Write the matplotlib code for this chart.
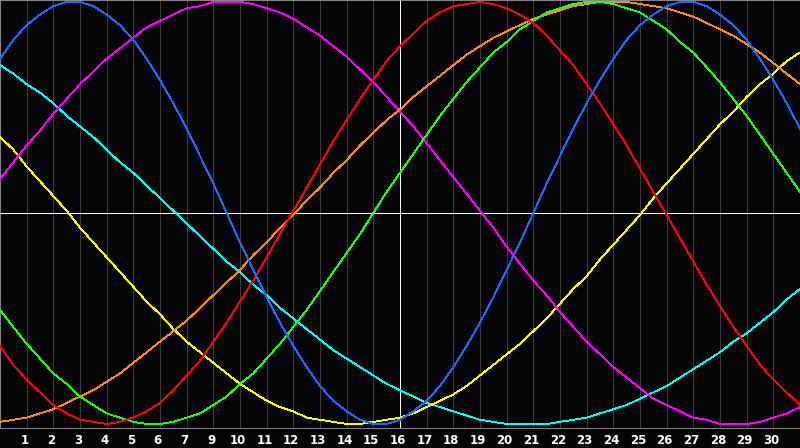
import matplotlib
matplotlib.use("Agg")
import matplotlib.pyplot as plt

# day labels under the grid lines (the source skips "8")
day_labels = ["1", "2", "3", "4", "5", "6", "7", "9", "10", "11", "12", "13", "14", "15",
              "16", "17", "18", "19", "20", "21", "22", "23", "24", "25", "26", "27",
              "28", "29", "30"]

# curve values in percent, read every half grid step from 0 to 30
days = [i * 0.5 for i in range(61)]
blue = [73, 82, 89, 94, 98, 100, 100, 98, 94, 89, 82, 73, 63, 52, 40, 27, 14, 0,
        -14, -27, -40, -52, -63, -73, -82, -89, -94, -98, -100, -100, -98, -94, -89,
        -82, -73, -63, -52, -40, -27, -14, 0, 14, 27, 40, 52, 63, 73, 82, 89, 94, 98,
        100, 100, 98, 94, 89, 82, 73, 63, 52, 40]
red = [-63, -72, -79, -85, -91, -95, -98, -99, -100, -99, -97, -94, -90, -84, -77, -70,
       -61, -52, -42, -32, -21, -10, 1, 12, 23, 34, 44, 54, 63, 72, 79, 85, 91, 95, 98,
       99, 100, 99, 97, 94, 90, 84, 77, 70, 61, 52, 42, 32, 21, 10, -1, -12, -23, -34,
       -44, -54, -63, -72, -79, -85, -91]
green = [-46, -54, -62, -69, -76, -81, -87, -91, -95, -97, -99, -100, -100, -99, -97,
         -95, -91, -87, -81, -76, -69, -62, -54, -46, -37, -28, -19, -10, 0, 10, 19, 28,
         37, 46, 54, 62, 69, 76, 81, 87, 91, 95, 97, 99, 100, 100, 99, 97, 95, 91, 87,
         81, 76, 69, 62, 54, 46, 37, 28, 19, 10]
yellow = [36, 30, 22, 15, 8, 1, -7, -14, -21, -28, -35, -42, -48, -55, -61, -66, -71,
          -76, -81, -85, -89, -92, -94, -97, -98, -99, -100, -100, -99, -98, -97, -95,
          -92, -89, -86, -82, -77, -72, -67, -62, -56, -50, -43, -36, -30, -22, -15, -8,
          -1, 7, 14, 21, 28, 35, 42, 48, 55, 61, 66, 72, 76]
magenta = [16, 24, 32, 39, 47, 54, 61, 67, 73, 78, 83, 88, 91, 94, 97, 98, 100, 100, 100,
           99, 97, 95, 92, 88, 84, 79, 74, 68, 62, 55, 48, 41, 33, 25, 17, 9, 1, -7, -16,
           -24, -32, -39, -47, -54, -61, -67, -73, -78, -83, -88, -91, -94, -97, -98,
           -100, -100, -100, -99, -97, -95, -92]
orange = [-99, -98, -97, -95, -93, -90, -87, -84, -80, -76, -71, -66, -61, -56, -51, -45,
          -39, -33, -27, -20, -14, -7, -1, 6, 12, 19, 25, 32, 38, 44, 49, 55, 60, 65, 70,
          75, 79, 83, 86, 89, 92, 94, 96, 98, 99, 100, 100, 100, 99, 98, 97, 95, 93, 90,
          87, 84, 80, 76, 71, 66, 61]
cyan = [70, 66, 61, 57, 52, 46, 41, 36, 30, 24, 19, 13, 7, 1, -5, -11, -17, -23, -28, -34,
        -39, -45, -50, -55, -60, -65, -69, -73, -77, -81, -84, -87, -90, -92, -94, -96,
        -98, -99, -100, -100, -100, -100, -99, -98, -97, -95, -93, -91, -88, -85, -82,
        -78, -74, -70, -66, -61, -57, -52, -47, -41, -36]

series = [
    (cyan, "#00ffff"),
    (yellow, "#ffff00"),
    (magenta, "#ff00ff"),
    (orange, "#ff8c1a"),
    (green, "#22ff11"),
    (red, "#ff0000"),
    (blue, "#1a6cff"),
]

bg = "#050508"
px = 0.6  # about one pixel at 100 dpi

fig = plt.figure(figsize=(8, 4.48), dpi=100, facecolor=bg)
ax = fig.add_axes([0, 20 / 448, 1, 428 / 448])
ax.set_facecolor(bg)

# grid lines at every day, white cross in the middle
for k in range(1, 30):
    ax.axvline(k, color="#3c3c40", lw=px, zorder=1, antialiased=False)
ax.axvline(15, color="white", lw=px, zorder=2, antialiased=False)
ax.axhline(0, color="white", lw=px, zorder=2, antialiased=False)

for vals, col in series:
    ax.plot(days, vals, color=col, lw=px, zorder=3, antialiased=False)

ax.set_xlim(0, 30)
ax.set_ylim(-101.9, 100.9)
ax.set_yticks([])
ax.set_xticks([k - 0.08 for k in range(1, 30)])
ax.set_xticklabels(day_labels, color="white", fontsize=8.5, fontweight="bold",
                   family="DejaVu Sans")
ax.tick_params(axis="x", length=0, pad=4.5)

for side in ["left", "bottom", "top", "right"]:
    ax.spines[side].set_color("#a0a0a0")
    ax.spines[side].set_linewidth(px)

plt.savefig("out.png", dpi=100, facecolor=bg)
